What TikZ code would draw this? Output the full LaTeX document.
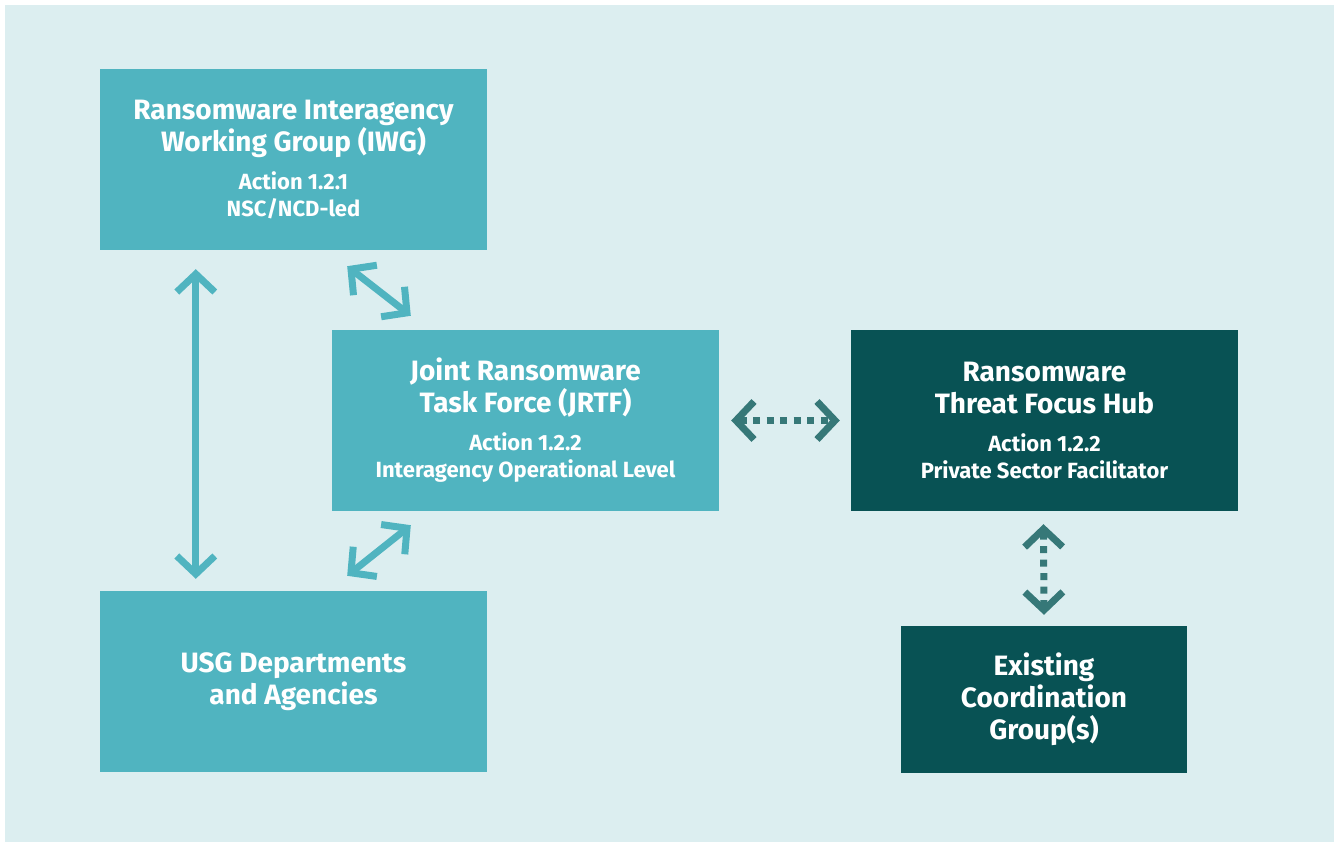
\documentclass[tikz,border=0pt]{standalone}
\usepackage{fontspec}
\setmainfont{Fira Sans}
\usepackage{xcolor}
\usepackage{tikz}
\usetikzlibrary{arrows.meta}

\definecolor{paleblue}{HTML}{DCEEF0}
\definecolor{tealbox}{HTML}{50B4C0}
\definecolor{darkbox}{HTML}{085254}
\definecolor{darkarrow}{HTML}{367878}

\newcommand{\titlef}{\fontsize{28}{32}\selectfont\bfseries}
\newcommand{\subf}{\fontsize{22}{27}\selectfont\bfseries}

\tikzset{
  lightbox/.style={fill=tealbox,text=white,minimum width=387pt,minimum height=181pt,align=center,inner sep=0pt,font=\titlef},
  darkbox/.style={lightbox,fill=darkbox},
  solidlink/.style={draw=tealbox,line width=7pt,{Straight Barb[length=18pt,width=38pt]}-{Straight Barb[length=18pt,width=38pt]}},
  dottedlink/.style={draw=darkarrow,line width=7pt,dash pattern=on 7pt off 6.5pt,{Straight Barb[length=18pt,width=38pt]}-{Straight Barb[length=18pt,width=38pt]}}
}

\begin{document}
\begin{tikzpicture}[x=1pt,y=-1pt]
    \useasboundingbox (0,0) rectangle (1334,842);
    \fill[paleblue] (5,5) rectangle (1334,842);

    \node[lightbox] (iwg) at (293.5,159.5) {Ransomware Interagency\\Working Group (IWG)\\[6pt] \subf Action 1.2.1\\[-5pt] \subf NSC/NCD-led};
    \node[lightbox] (jrtf) at (525.5,420.5) {Joint Ransomware\\Task Force (JRTF)\\[6pt] \subf Action 1.2.2\\[-5pt] \subf Interagency Operational Level};
    \node[darkbox] (hub) at (1044.5,420.5) {Ransomware\\Threat Focus Hub\\[6pt] \subf Action 1.2.2\\[-5pt] \subf Private Sector Facilitator};
    \node[lightbox] (usg) at (293.5,681.5) {USG Departments\\and Agencies};
    \node[darkbox,minimum width=286pt,minimum height=147pt] (ecg) at (1044,699.5) {Existing\\Coordination\\Group(s)};

    \draw[solidlink] ([xshift=96pt,yshift=-19pt]iwg.south west)--([xshift=96pt,yshift=12pt]usg.north west);
    \draw[solidlink] ([xshift=-140pt,yshift=-16pt]iwg.south east)--([xshift=79pt,yshift=14pt]jrtf.north west);
    \draw[solidlink] ([xshift=79pt,yshift=-14pt]jrtf.south west)--([xshift=-140pt,yshift=15pt]usg.north east);
    \draw[dottedlink] ([xshift=12pt]jrtf.east)--([xshift=-11pt]hub.west);
    \draw[dottedlink] ([xshift=-1pt,yshift=-13pt]hub.south)--([yshift=11pt]ecg.north);
\end{tikzpicture}
\end{document}
